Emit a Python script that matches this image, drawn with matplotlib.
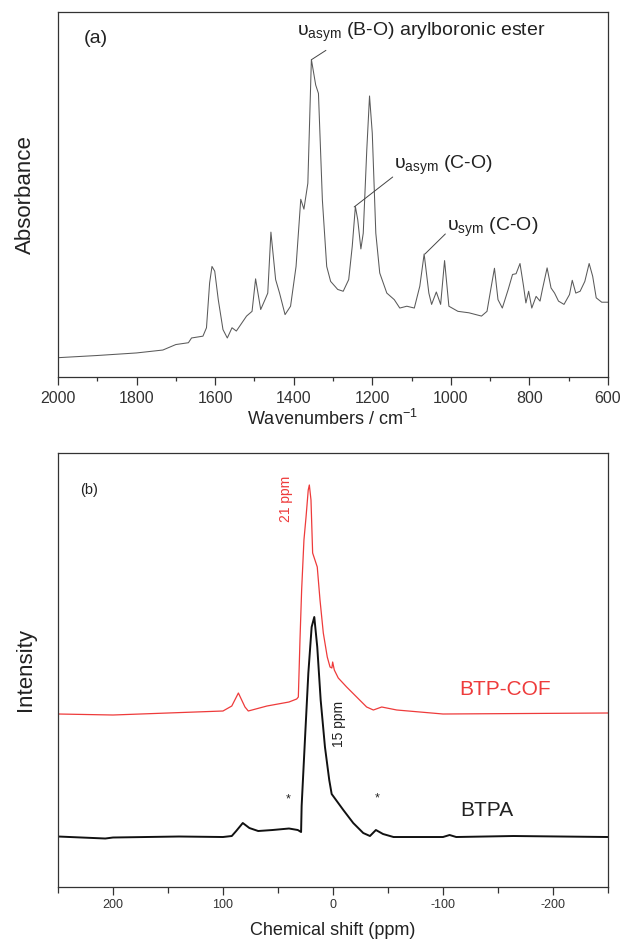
import numpy as np
import matplotlib
matplotlib.use("Agg")
import matplotlib.pyplot as plt
from matplotlib.ticker import MultipleLocator

plt.rcParams['font.family'] = ['Liberation Sans', 'DejaVu Sans']
plt.rcParams['mathtext.fontset'] = 'custom'
plt.rcParams['mathtext.rm'] = 'Liberation Sans'
plt.rcParams['mathtext.it'] = 'Liberation Sans:italic'
plt.rcParams['axes.unicode_minus'] = False

# (a) IR spectrum (absorbance in normalised units)
ir_wavenumber = [2000, 1900, 1800, 1733, 1700, 1668, 1660, 1631, 1622, 1614,
                 1608, 1601, 1592, 1580, 1569, 1557, 1546, 1520, 1506, 1497,
                 1484, 1473, 1466, 1458, 1446, 1436, 1422, 1408, 1394, 1382,
                 1374, 1364, 1355, 1344, 1337, 1327, 1316, 1306, 1288, 1274,
                 1260, 1251, 1243, 1237, 1229, 1223, 1214, 1207, 1200, 1191,
                 1181, 1163, 1144, 1130, 1112, 1093, 1079, 1068, 1056, 1049,
                 1037, 1026, 1016, 1005, 982, 954, 922, 908, 897, 889,
                 880, 869, 854, 843, 834, 824, 815, 809, 802, 794,
                 783, 773, 767, 755, 745, 736, 726, 712, 698, 691,
                 682, 671, 659, 648, 639, 630, 616, 600]
ir_absorbance = [0.053, 0.059, 0.066, 0.074, 0.089, 0.094, 0.107, 0.112, 0.135, 0.258,
                 0.303, 0.290, 0.212, 0.130, 0.107, 0.135, 0.126, 0.167, 0.180, 0.269,
                 0.185, 0.212, 0.230, 0.397, 0.267, 0.230, 0.171, 0.194, 0.303, 0.487,
                 0.460, 0.531, 0.870, 0.800, 0.777, 0.485, 0.303, 0.262, 0.240, 0.235,
                 0.267, 0.358, 0.467, 0.431, 0.351, 0.394, 0.622, 0.770, 0.668, 0.394,
                 0.285, 0.230, 0.212, 0.189, 0.194, 0.189, 0.249, 0.337, 0.230, 0.199,
                 0.233, 0.199, 0.319, 0.194, 0.180, 0.176, 0.167, 0.180, 0.249, 0.298,
                 0.212, 0.189, 0.240, 0.281, 0.283, 0.311, 0.249, 0.203, 0.235, 0.189,
                 0.221, 0.208, 0.240, 0.299, 0.244, 0.230, 0.208, 0.199, 0.226, 0.265,
                 0.230, 0.235, 0.262, 0.311, 0.276, 0.217, 0.205, 0.205]

# (b) 11B NMR spectra (intensity in arbitrary units, offsets included)
btpa_shift = [250, 207, 200, 140, 100, 92, 88, 82, 76, 68, 55, 40, 32, 29,
              28.5, 25.5, 22.4, 19.4, 17, 14.3, 11.2, 7.3, 3.4, 1.2,
              -9.4, -18.4, -27.5, -33.6, -39, -45.5, -55, -100, -106, -112,
              -164, -250]
btpa_intensity = [50, 48, 49, 50, 49.5, 50.5, 55.5, 63.5, 58.5, 55.5, 56.5, 58, 56.5, 54.5,
                  80.5, 146.5, 213.5, 259.5, 269.5, 239.5, 186.5, 139.5, 106.5, 92.5,
                  76.5, 63.5, 53.5, 50.5, 56.5, 52.5, 49.5, 49.5, 51.5, 49.5,
                  50.5, 49.5]

cof_shift = [250, 200, 150, 100, 92, 86, 80, 77, 60, 40, 33, 31.5,
             30, 28.5, 26.4, 24.5, 22.5, 21.5, 20, 18.5, 16.4, 14.3, 11.8,
             8.8, 5.2, 2.7, 1, 0.3, -1.2, -4.8, -12.4, -21.5, -30.6, -36.7,
             -44.3, -58, -100, -250]
cof_intensity = [172.5, 171.5, 173.5, 175.5, 180.5, 193.5, 179.5, 175.5, 180.5, 184.5, 187.5, 189.5,
                 246.5, 296.5, 346.5, 369.5, 396.5, 401.5, 386.5, 333.5, 326.5, 319.5, 286.5,
                 253.5, 229.5, 219.5, 218.5, 224.5, 216.5, 208.5, 199.5, 189.5, 179.5, 176.5,
                 179.5, 176.5, 172.5, 173.5]

spine_c = '#333333'
red = '#ee3b3b'

fig = plt.figure(figsize=(6.22, 9.40), dpi=100)
ax1 = fig.add_axes([0.0932, 0.5989, 0.8843, 0.3883])
ax2 = fig.add_axes([0.0932, 0.0569, 0.8843, 0.4612])

for ax in (ax1, ax2):
    for s in ax.spines.values():
        s.set_color(spine_c)
        s.set_linewidth(0.9)
    ax.set_yticks([])
    ax.tick_params(axis='x', which='both', direction='out', color=spine_c,
                   labelcolor='#333333', width=0.9, top=False)

# ---- panel (a)
ax1.plot(ir_wavenumber, ir_absorbance, color='#5a5a5a', lw=0.75)
ax1.set_xlim(2000, 600)
ax1.set_ylim(0, 1)
ax1.xaxis.set_major_locator(MultipleLocator(200))
ax1.xaxis.set_minor_locator(MultipleLocator(100))
ax1.tick_params(axis='x', which='major', length=6, pad=4, labelsize=11.5)
ax1.tick_params(axis='x', which='minor', length=3)
ax1.set_xlabel('Wavenumbers / cm$^{-1}$', fontsize=13, labelpad=2, color='#222222')
ax1.set_ylabel('Absorbance', fontsize=16, color='#222222', labelpad=16)

ax1.text(1935, 0.915, '(a)', fontsize=14, color='#222222', va='baseline')
ax1.text(1392, 0.934, r'$\mathrm{υ}_{\mathrm{asym}}$ (B-O) arylboronic ester',
         fontsize=14, color='#222222', va='baseline')
ax1.text(1145, 0.569, r'$\mathrm{υ}_{\mathrm{asym}}$ (C-O)',
         fontsize=14, color='#222222', va='baseline')
ax1.text(1009, 0.399, r'$\mathrm{υ}_{\mathrm{sym}}$ (C-O)',
         fontsize=14, color='#222222', va='baseline')
lead = dict(arrowstyle='-', color='#444444', lw=0.7, shrinkA=0, shrinkB=0)
ax1.annotate('', xy=(1354, 0.870), xytext=(1318, 0.895), arrowprops=lead)
ax1.annotate('', xy=(1246, 0.466), xytext=(1148, 0.548), arrowprops=lead)
ax1.annotate('', xy=(1066, 0.337), xytext=(1014, 0.392), arrowprops=lead)

# ---- panel (b)
ax2.plot(cof_shift, cof_intensity, color=red, lw=0.9)
ax2.plot(btpa_shift, btpa_intensity, color='#111111', lw=1.4)
ax2.set_xlim(250, -250)
ax2.set_ylim(0, 433.5)
ax2.xaxis.set_major_locator(MultipleLocator(100))
ax2.xaxis.set_minor_locator(MultipleLocator(50))
ax2.tick_params(axis='x', which='major', length=6, pad=3, labelsize=9)
ax2.tick_params(axis='x', which='minor', length=4)
ax2.set_xlabel('Chemical shift (ppm)', fontsize=13, labelpad=8, color='#222222')
ax2.set_ylabel('Intensity', fontsize=16, color='#222222', labelpad=16)

ax2.text(230, 396.5, '(b)', fontsize=10.5, color='#222222', va='center')
ax2.text(42.7, 387.5, '21 ppm', fontsize=10, color=red, rotation=90,
         ha='center', va='center')
ax2.text(-5.5, 162.5, '15 ppm', fontsize=10, color='#222222', rotation=90,
         ha='center', va='center')
ax2.text(-114.5, 197.5, 'BTP-COF', fontsize=15, color=red, va='center')
ax2.text(-115.5, 76.5, 'BTPA', fontsize=15, color='#222222', va='center')
ax2.text(41, 87.5, '*', fontsize=9, color='#222222', ha='center', va='center')
ax2.text(-40, 88.5, '*', fontsize=9, color='#222222', ha='center', va='center')

fig.savefig('out.png', dpi=100)
plt.close(fig)
